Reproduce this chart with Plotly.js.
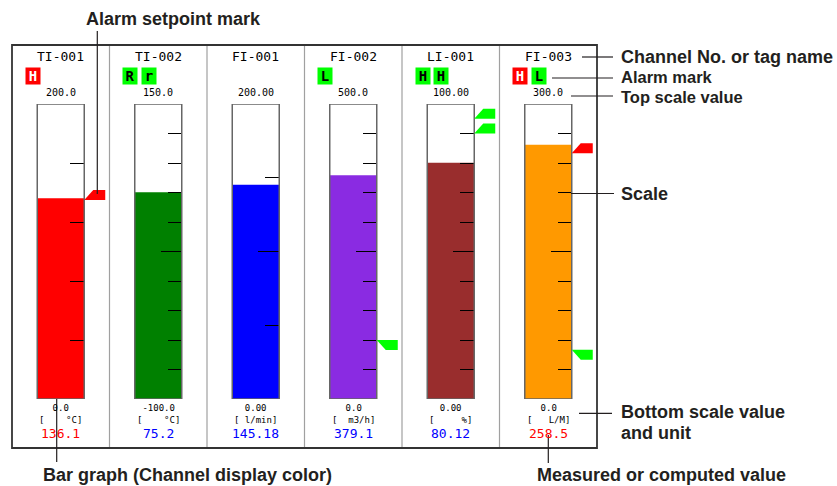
<!DOCTYPE html>
<html><head><meta charset="utf-8">
<script src="https://cdn.plot.ly/plotly-3.0.1.min.js"></script>
<style>html,body{margin:0;padding:0;background:#fff}</style>
</head><body><div id="chart" style="width:837px;height:486px"></div>
<script>
// ---- data ----
const tags = ['TI-001','TI-002','FI-001','FI-002','LI-001','FI-003'];
const scaleTop = [200.0, 150.0, 200.00, 500.0, 100.00, 300.0];
const scaleBottom = [0.0, -100.0, 0.00, 0.0, 0.00, 0.0];
const topLabels = ['200.0','150.0','200.00','500.0','100.00','300.0'];
const bottomLabels = ['0.0','-100.0','0.00','0.0','0.00','0.0'];
const units = ['°C','°C','l/min','m3/h','%','L/M'];
const values = [136.1, 75.2, 145.18, 379.1, 80.12, 258.5];
const valueLabels = ['136.1','75.2','145.18','379.1','80.12','258.5'];
const valueColors = ['#ff0000','#0000ff','#0000ff','#0000ff','#0000ff','#ff0000'];
const barColors = ['#ff0000','#008000','#0000ff','#8a2be2','#992d2d','#ff9900'];
const scaleDivisions = [5,10,4,10,10,10];
const alarmMarkChannel = [0,1,1,3,4,4,5,5];
const alarmMarkText = ['H','R','r','L','H','H','H','L'];
const alarmMarkColor = ['red','green','green','green','green','green','red','green'];
const setpointChannel = [0,3,4,4,5,5];
const setpointType = ['H','L','H','H','H','L'];
const setpointValue = [135,100,95,90,250,50];
const setpointColor = ['red','green','green','green','red','green'];

// ---- styling / geometry ----
const W = 837, H = 486;
const boxL = 12, boxR = 597, boxT = 45, boxB = 448;
const tubeT = 104, tubeB = 399;
const pw = (boxR - boxL) / tags.length;
const tubeFrac = 47 / pw;
const px = x => x / W;
const py = y => 1 - y / H;
const markFill = {red:'#ff0000', green:'#00ff00'};
const markFont = {red:'#ffffff', green:'#000000'};
const mono = 'DejaVu Sans Mono, monospace';
const labelFont = {family:'Liberation Sans, Arial, sans-serif', size:18, color:'#231f20', weight:'bold'};
const yName = i => i === 0 ? 'y' : 'y' + (i + 1);
const yKey = i => i === 0 ? 'yaxis' : 'yaxis' + (i + 1);

const traces = tags.map((t, i) => ({
  type:'bar', x:[t], y:[values[i] - scaleBottom[i]], base:[scaleBottom[i]],
  width:[tubeFrac], marker:{color:barColors[i], line:{width:0}},
  xaxis:'x', yaxis:yName(i), hoverinfo:'skip', showlegend:false
}));

const layout = {
  width:W, height:H, margin:{l:0,r:0,t:0,b:0},
  paper_bgcolor:'#fff', plot_bgcolor:'rgba(0,0,0,0)',
  barmode:'overlay', showlegend:false,
  xaxis:{type:'category', categoryarray:tags, range:[-0.5, tags.length - 0.5],
    domain:[px(boxL), px(boxR)], visible:false, fixedrange:true},
  shapes:[], annotations:[]
};

function panelText(i, y, text, size, color) {
  return {xref:'x', yref:'paper', x:i, y:py(y), xanchor:'center', yanchor:'middle',
    text:text, showarrow:false, font:{family:mono, size:size, color:color}};
}

tags.forEach((t, i) => {
  const lo = scaleBottom[i], hi = scaleTop[i], div = scaleDivisions[i];
  const step = (hi - lo) / div;
  const all = [];
  for (let k = 1; k < div; k++) all.push(lo + step * k);
  const ax = {
    range:[lo, hi], autorange:false, fixedrange:true,
    anchor:'free', position:px(boxL + pw * (i + 0.5) + 23.5), side:'right',
    showgrid:false, zeroline:false, showline:false, showticklabels:false,
    ticks:'inside', tickcolor:'#000', tickwidth:1
  };
  if (i === 0) ax.domain = [py(tubeB), py(tubeT)]; else ax.overlaying = 'y';
  if (div % 2 === 0) {
    const mid = lo + step * div / 2;
    ax.tickmode = 'array'; ax.tickvals = [mid]; ax.ticklen = 21;
    ax.minor = {tickmode:'array', tickvals:all.filter(v => Math.abs(v - mid) > 1e-9),
      ticks:'inside', ticklen:14, tickwidth:1, tickcolor:'#000'};
  } else {
    ax.tickmode = 'array'; ax.tickvals = all; ax.ticklen = 14;
  }
  layout[yKey(i)] = ax;

  // tube outline
  layout.shapes.push({type:'rect', xref:'x', yref:yName(i), x0:i - tubeFrac/2, x1:i + tubeFrac/2,
    y0:lo, y1:hi, line:{color:'#666', width:1.5}, layer:'above'});
  // divider
  if (i > 0) layout.shapes.push({type:'line', xref:'x', yref:'paper', x0:i - 0.5, x1:i - 0.5,
    y0:py(boxB), y1:py(boxT), line:{color:'#a0a0a0', width:1.2}});

  // texts
  const unitText = '[' + '\u00a0'.repeat(6 - units[i].length) + units[i] + ']';
  layout.annotations.push(
    panelText(i, 57, t, 13, '#000'),
    panelText(i, 92, topLabels[i], 10, '#000'),
    panelText(i, 413.5, bottomLabels[i] + '<br>' + unitText, 9, '#000'),
    panelText(i, 433, valueLabels[i], 13, valueColors[i])
  );
});

// alarm marks
const markCount = {};
alarmMarkChannel.forEach((ch, j) => {
  const k = markCount[ch] || 0; markCount[ch] = k + 1;
  layout.annotations.push({xref:'x', yref:'paper', x:ch, xshift:-28.25 + 18.5 * k, y:py(76),
    xanchor:'center', yanchor:'middle',
    text:alarmMarkText[j], showarrow:false, width:14, height:16, borderpad:0,
    bgcolor:markFill[alarmMarkColor[j]],
    font:{family:mono, size:14, color:markFont[alarmMarkColor[j]], weight:'bold'}});
});

// alarm setpoint flags
setpointChannel.forEach((ch, j) => {
  const path = setpointType[j] === 'H' ? 'M0,0L9,10L21,10L21,0Z' : 'M0,0L9,-10L21,-10L21,0Z';
  layout.shapes.push({type:'path', xref:'x', yref:yName(ch), xsizemode:'pixel', ysizemode:'pixel',
    xanchor:ch + tubeFrac/2, yanchor:setpointValue[j], path:path,
    fillcolor:markFill[setpointColor[j]], line:{width:0}, layer:'above'});
});

// outer frame
layout.shapes.push({type:'rect', xref:'paper', yref:'paper', x0:px(boxL), x1:px(boxR), y0:py(boxB), y1:py(boxT),
  line:{color:'#333', width:1.8}});

// callout leader lines
const leaders = [
  [97.3,31,97.3,194], [582,57,613,57], [552,78,613,78], [571,96,613,96],
  [571,193.5,614,193.5], [579,413.3,612,413.3], [548.3,435,548.3,463], [56.7,399,56.7,462]
];
leaders.forEach(l => layout.shapes.push({type:'line', xref:'paper', yref:'paper',
  x0:px(l[0]), y0:py(l[1]), x1:px(l[2]), y1:py(l[3]), line:{color:'#231f20', width:1.2}, layer:'above'}));

const callouts = [
  ['Alarm setpoint mark', 84, 19, 18],
  ['Channel No. or tag name', 619, 56.5, 18],
  ['Alarm mark', 619, 77.5, 16.5],
  ['Top scale value', 619, 97, 16.5],
  ['Scale', 619, 194, 18],
  ['Bottom scale value', 619, 412, 18],
  ['and unit', 619, 433, 18],
  ['Bar graph (Channel display color)', 41, 475, 18],
  ['Measured or computed value', 535, 475, 18]
];
callouts.forEach(c => layout.annotations.push({xref:'paper', yref:'paper', x:px(c[1]), y:py(c[2]),
  xanchor:'left', yanchor:'middle', text:c[0], showarrow:false,
  font:Object.assign({}, labelFont, {size:c[3]})}));

Plotly.newPlot('chart', traces, layout, {staticPlot:true, displayModeBar:false});
</script></body></html>
